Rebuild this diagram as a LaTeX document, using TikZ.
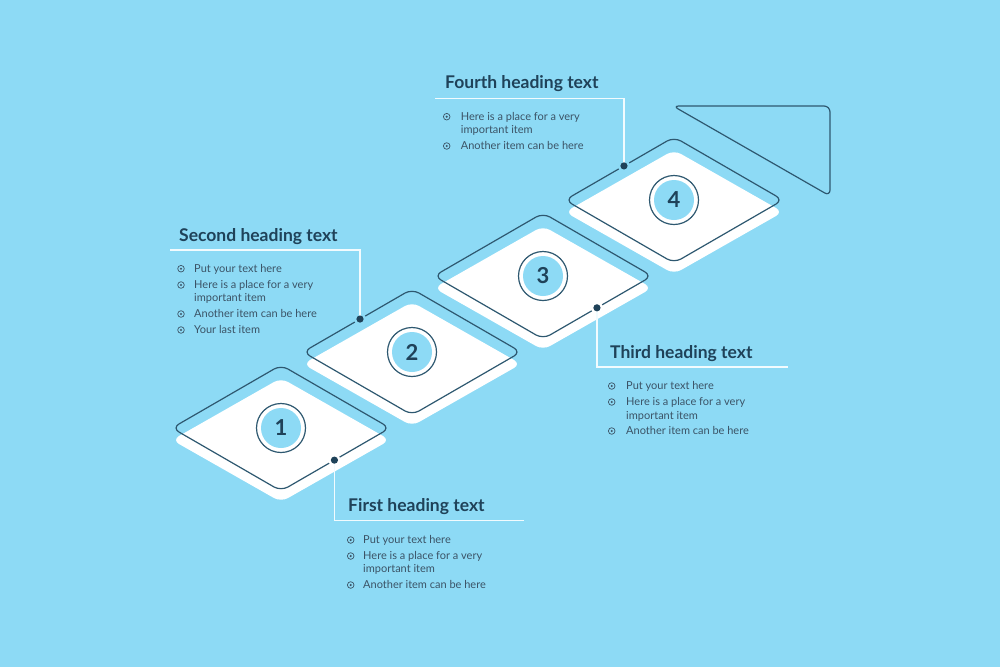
\documentclass[tikz,border=0pt]{standalone}
\usepackage{fontspec}
\setmainfont{Lato}
\usetikzlibrary{calc}
\definecolor{bg}{HTML}{8DDAF5}
\definecolor{navy}{HTML}{1F4259}
\definecolor{edgec}{HTML}{2E5870}
\definecolor{bodyc}{HTML}{3B5366}
\definecolor{conn}{HTML}{F2FBFE}
\begin{document}
\begin{tikzpicture}[x=1pt,y=-1pt,
  outlinebox/.style={draw=edgec,line width=1.2pt,rounded corners=8pt},
  platebox/.style={fill=white,rounded corners=8pt},
  connline/.style={draw=conn,line width=1.1pt},
  headtxt/.style={anchor=base west,inner sep=0pt,font=\bfseries\fontsize{17.5}{20}\selectfont,text=navy},
  itemtxt/.style={anchor=base west,inner sep=0pt,font=\fontsize{11}{13}\selectfont,text=bodyc},
  numtxt/.style={font=\bfseries\fontsize{22}{24}\selectfont,text=navy,inner sep=0pt},
  bulletmark/.pic={\draw[bodyc,line width=0.7pt] (0,0) circle (3.3); \fill[bodyc] (0,0) circle (1.2);}
]
\fill[bg] (0,0) rectangle (1000,667);
\useasboundingbox (0,0) rectangle (1000,667);

% steps
\foreach \i in {1,...,4} {
  \pgfmathsetmacro{\cx}{281+131*(\i-1)}
  \pgfmathsetmacro{\cy}{428-76*(\i-1)}
  \coordinate (C\i) at (\cx,\cy);
  \coordinate (L\i) at (\cx-109,\cy);
  \coordinate (T\i) at (\cx,\cy-63);
  \coordinate (R\i) at (\cx+109,\cy);
  \coordinate (B\i) at (\cx,\cy+63);
  \fill[platebox] (\cx-109,\cy+12) -- (\cx,\cy-50) -- (\cx+109,\cy+12) -- (\cx,\cy+74) -- cycle;
  \draw[outlinebox] (L\i) -- (T\i) -- (R\i) -- (B\i) -- cycle;
  \node[circle,draw=edgec,line width=1.2pt,fill=white,minimum size=49pt,inner sep=0pt] (ring\i) at (C\i) {};
  \node[circle,fill=bg,minimum size=40pt,numtxt] (num\i) at (C\i) {\i};
}

% arrow head
\draw[outlinebox,rounded corners=6pt] (673,106) -- (830,106) -- (830,196) -- cycle;

% dots and connectors
\coordinate (d1) at ($(B1)!0.49!(R1)$);
\coordinate (d2) at ($(T2)!0.477!(L2)$);
\coordinate (d3) at ($(B3)!0.495!(R3)$);
\coordinate (d4) at ($(T4)!0.459!(L4)$);
\coordinate (e1) at (524,520.5);
\coordinate (e2) at (170,250);
\coordinate (e3) at (788,367);
\coordinate (e4) at (435,98.3);
\fill[white] (d1) circle (6);
\fill[bg] (d2) circle (6);
\fill[white] (d3) circle (6);
\fill[bg] (d4) circle (6);
\foreach \k in {1,...,4} {
  \draw[connline] (d\k) |- (e\k);
  \fill[navy] (d\k) circle (3.6);
}

% headings
\node[headtxt] (h1) at (348,511) {First heading text};
\node[headtxt] (h2) at (179,241) {Second heading text};
\node[headtxt] (h3) at (610,358) {Third heading text};
\node[headtxt] (h4) at (445,88) {Fourth heading text};

% block 1
\pic at (350.7,540) {bulletmark};
\pic at (350.7,556) {bulletmark};
\pic at (350.7,585) {bulletmark};
\node[itemtxt] (a1) at (363,543.7) {Put your text here};
\node[itemtxt] (a2) at (363,559.7) {Here is a place for a very};
\node[itemtxt] (a3) at (363,572.7) {important item};
\node[itemtxt] (a4) at (363,588.7) {Another item can be here};

% block 2
\pic at (181,268.7) {bulletmark};
\pic at (181,285) {bulletmark};
\pic at (181,314) {bulletmark};
\pic at (181,330) {bulletmark};
\node[itemtxt] (b1) at (194,272.4) {Put your text here};
\node[itemtxt] (b2) at (194,288.7) {Here is a place for a very};
\node[itemtxt] (b3) at (194,301.4) {important item};
\node[itemtxt] (b4) at (194,317.7) {Another item can be here};
\node[itemtxt] (b5) at (194,333.7) {Your last item};

% block 3
\pic at (611.7,386) {bulletmark};
\pic at (611.7,402) {bulletmark};
\pic at (611.7,431) {bulletmark};
\node[itemtxt] (c1) at (626,389.7) {Put your text here};
\node[itemtxt] (c2) at (626,405.7) {Here is a place for a very};
\node[itemtxt] (c3) at (626,419.4) {important item};
\node[itemtxt] (c4) at (626,434.7) {Another item can be here};

% block 4
\pic at (446.7,116.7) {bulletmark};
\pic at (446.7,146) {bulletmark};
\node[itemtxt] (f1) at (460.7,120.4) {Here is a place for a very};
\node[itemtxt] (f2) at (460.7,133.7) {important item};
\node[itemtxt] (f3) at (460.7,149.7) {Another item can be here};
\end{tikzpicture}
\end{document}
